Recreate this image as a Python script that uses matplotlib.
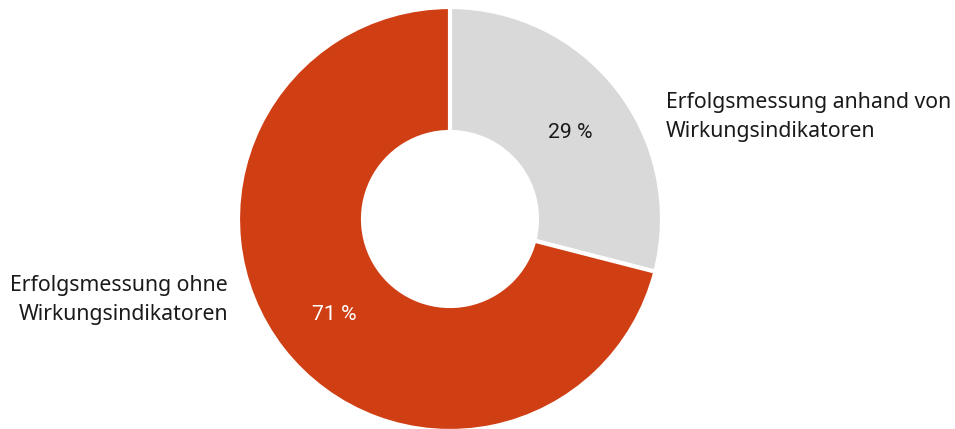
import matplotlib.pyplot as plt

labels = ["Erfolgsmessung anhand von\nWirkungsindikatoren",
          "Erfolgsmessung ohne\nWirkungsindikatoren"]
shares = [29, 71]
colors = ["#d9d9d9", "#d03e13"]
pct_colors = ["#1a1a1a", "white"]

fig = plt.figure(figsize=(9.55, 4.29), dpi=100)
ax = fig.add_axes([0, 0, 1, 1])

# donut, scaled so radius 1 = 212 px, centered at (450, 210) px
r_px = 212.0
cx, cy = 450.0, 210.0

wedges, _ = ax.pie(shares, colors=colors, startangle=90, counterclock=False,
                   radius=1, wedgeprops=dict(width=1 - 87 / r_px, edgecolor="white", linewidth=3))

ax.set_xlim(-cx / r_px, (955 - cx) / r_px)
ax.set_ylim(-cy / r_px, (429 - cy) / r_px)
ax.set_aspect("equal")
ax.axis("off")

# percentage labels
pct_pos = [((570 - cx) / r_px, (429 - 132 - cy) / r_px),
           ((334 - cx) / r_px, (429 - 315 - cy) / r_px)]
for (x, y), v, c in zip(pct_pos, shares, pct_colors):
    ax.text(x, y, f"{v} %", ha="center", va="center", fontsize=15.3,
            color=c, family="Roboto")

# category labels
ax.text((666 - cx) / r_px, (429 - 117 - cy) / r_px, labels[0], ha="left", va="center",
        fontsize=15.3, family="Noto Sans", color="#1a1a1a", linespacing=1.5)
ax.text((228 - cx) / r_px, (429 - 300 - cy) / r_px, labels[1], ha="right", va="center",
        fontsize=15.3, family="Noto Sans", color="#1a1a1a", linespacing=1.5,
        multialignment="right")

fig.savefig("out.png", dpi=100)
